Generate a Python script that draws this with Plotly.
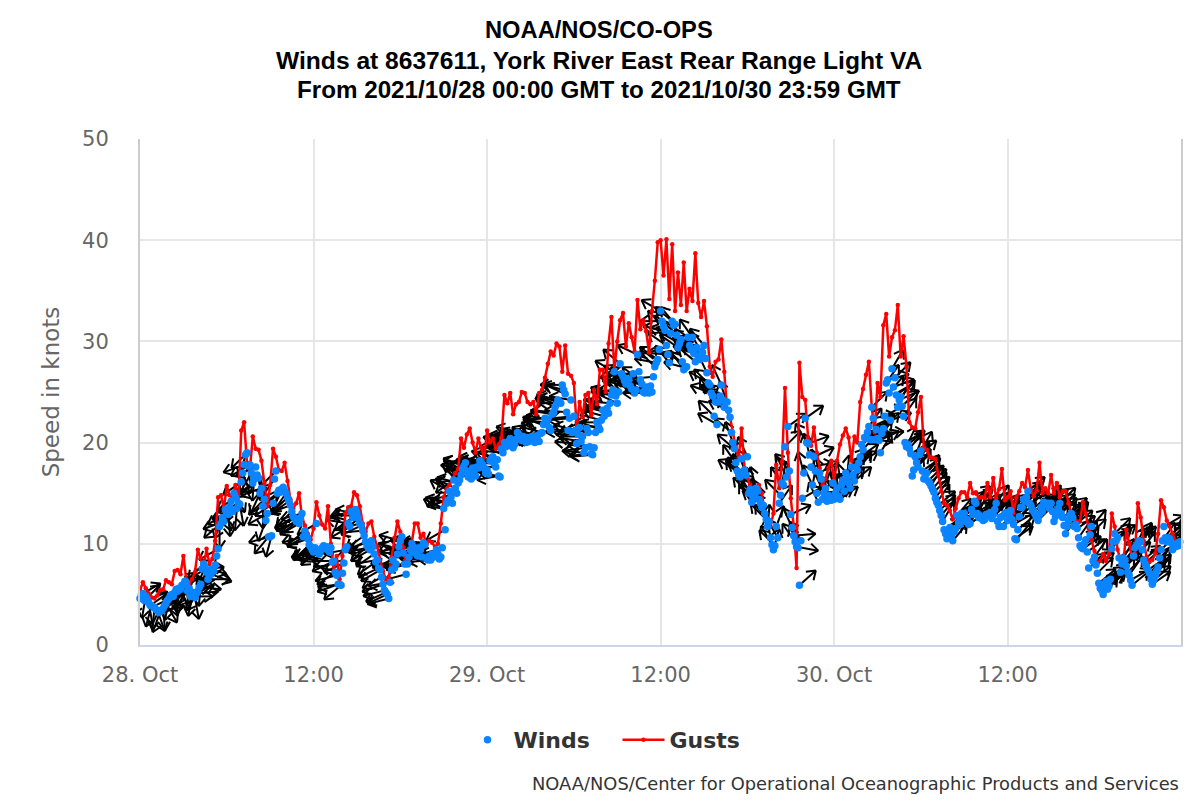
#! python3
# -*- coding: utf-8 -*-
import plotly.graph_objs as go
import datetime
import math

# Values, one row per hour, one value every 12 minutes
winds = [
    4.6, 5.1, 4.8, 4.2, 3.9,
    3.7, 3.4, 3.3, 3.6, 4.1,
    4.6, 5.0, 5.2, 5.3, 5.5,
    5.9, 6.2, 5.6, 5.0, 4.7,
    5.3, 6.0, 8.0, 7.2, 7.4,
    7.5, 7.9, 9.5, 12.0, 12.2,
    13.0, 13.6, 13.2, 14.6, 14.0,
    16.1, 17.8, 19.0, 17.8, 16.0,
    17.6, 16.5, 15.5, 14.4, 13.0,
    10.7, 14.0, 17.2, 15.3, 15.4,
    15.2, 14.6, 13.8, 12.7, 12.2,
    12.0, 13.0, 11.3, 10.5, 9.7,
    9.2, 12.0, 9.0, 9.6, 9.5,
    9.4, 9.6, 8.3, 6.9, 6.0,
    7.1, 9.4, 12.0, 13.2, 12.8,
    13.0, 12.0, 11.3, 10.2, 9.6,
    10.3, 9.0, 8.4, 7.4, 6.0,
    5.2, 4.6, 7.4, 7.6, 9.0,
    10.3, 9.1, 7.0, 8.7, 10.0,
    9.6, 8.8, 9.4, 10.1, 8.6,
    8.8, 9.0, 8.8, 9.0, 8.7,
    13.5, 14.0, 15.2, 14.0, 15.5,
    16.0, 16.8, 17.7, 17.2, 17.0,
    17.5, 16.7, 17.5, 18.0, 17.5,
    17.3, 18.2, 18.6, 17.6, 16.7,
    19.4, 20.0, 19.8, 20.4, 19.5,
    20.3, 20.8, 20.2, 20.4, 20.5,
    20.2, 20.6, 20.3, 20.1, 21.0,
    22.4, 22.3, 21.2, 23.0, 23.8,
    24.0, 25.7, 24.8, 21.2, 24.2,
    22.6, 19.9, 21.5, 20.6, 19.5,
    21.0, 18.9, 19.5, 22.0, 21.3,
    23.2, 23.0, 22.9, 24.7, 27.0,
    23.9, 27.8, 26.5, 25.8, 26.2,
    25.3, 24.9, 28.7, 26.2, 25.0,
    25.5, 24.9, 25.0, 27.5, 28.2,
    33.0, 31.5, 29.6, 27.9, 32.0,
    31.7, 29.4, 30.2, 27.2, 27.5,
    29.6, 30.4, 28.0, 28.5, 29.0,
    29.6, 26.9, 25.7, 24.6, 24.0,
    24.0, 25.7, 23.5, 24.0, 22.5,
    20.0, 18.0, 16.8, 18.4, 17.3,
    18.6, 15.4, 14.5, 15.5, 14.4,
    13.6, 13.0, 11.7, 10.6, 9.4,
    11.7, 14.0, 16.0, 19.6, 21.6,
    12.9, 10.8, 9.7, 5.9, 14.5,
    22.4, 19.9, 17.6, 18.6, 15.0,
    17.0, 14.4, 15.5, 14.8, 14.3,
    14.4, 15.5, 14.4, 16.3, 17.0,
    16.0, 17.6, 16.2, 17.3, 18.6,
    19.3, 20.4, 21.6, 23.5, 20.3,
    20.4, 19.0, 21.4, 25.9, 24.9,
    27.3, 26.4, 23.5, 24.5, 22.6,
    19.6, 19.4, 16.7, 18.6, 17.6,
    19.2, 16.4, 17.0, 16.0, 15.4,
    14.5, 13.8, 12.8, 11.4, 10.5,
    11.6, 10.3, 11.5, 12.1, 13.0,
    13.0, 12.4, 12.0, 12.9, 14.0,
    12.6, 12.5, 12.4, 12.8, 13.1,
    12.9, 14.0, 11.7, 12.7, 13.0,
    12.3, 13.3, 11.9, 10.4, 12.7,
    13.6, 14.2, 15.2, 13.8, 13.2,
    12.6, 12.9, 13.2, 14.0, 14.0,
    14.0, 12.2, 13.0, 14.0, 12.6,
    11.0, 12.3, 13.0, 11.7, 11.5,
    9.8, 9.5, 10.4, 7.6, 11.7,
    8.7, 7.1, 5.6, 5.0, 6.3,
    5.8, 9.5, 11.0, 10.6, 7.2,
    8.6, 7.8, 6.9, 5.9, 9.6,
    10.0, 10.2, 8.4, 7.7, 7.1,
    6.0, 6.9, 7.7, 9.4, 11.7,
    10.2, 10.5, 9.4, 9.7, 9.8,
]
# The same, for the readings 6 minutes later
winds_between = [
    5.0, 4.4, 4.5, 3.9, 3.8,
    3.5, 3.2, 3.4, 3.9, 4.4,
    4.9, 4.8, 5.5, 5.6, 5.9,
    6.3, 5.3, 4.8, 5.2, 5.1,
    5.7, 7.5, 7.6, 6.5, 7.0,
    7.3, 8.8, 11.7, 12.6, 13.4,
    12.9, 14.2, 15.0, 13.5, 13.9,
    17.0, 18.8, 17.7, 17.0, 16.4,
    16.8, 15.0, 13.7, 12.3, 10.7,
    10.8, 16.4, 15.0, 15.1, 15.6,
    15.0, 14.2, 13.2, 12.5, 12.4,
    12.5, 10.7, 10.8, 9.9, 9.4,
    9.6, 9.3, 9.4, 9.8, 9.7,
    9.2, 8.2, 7.2, 6.0, 5.9,
    8.1, 9.7, 11.7, 12.6, 13.4,
    12.5, 11.8, 10.8, 9.8, 9.4,
    9.7, 8.2, 7.6, 6.7, 5.4,
    5.0, 6.2, 8.4, 8.0, 9.7,
    10.7, 8.0, 8.0, 9.4, 9.2,
    9.0, 9.6, 8.7, 9.9, 8.4,
    8.4, 8.7, 9.4, 8.5, 9.6,
    11.4, 14.3, 14.6, 16.3, 15.0,
    16.3, 17.4, 18.0, 16.6, 16.4,
    17.0, 17.6, 18.2, 17.8, 17.0,
    16.9, 18.4, 17.9, 18.3, 16.6,
    19.0, 19.6, 20.1, 20.0, 19.8,
    21.0, 20.4, 20.6, 20.0, 20.1,
    20.6, 20.0, 20.7, 20.9, 21.8,
    22.0, 21.5, 22.8, 23.5, 24.2,
    23.9, 25.2, 23.0, 22.4, 21.0,
    21.2, 20.8, 20.1, 19.0, 21.4,
    19.6, 18.8, 21.0, 21.6, 22.2,
    22.6, 23.4, 23.9, 25.2, 24.6,
    25.0, 26.8, 26.1, 26.3, 25.6,
    26.8, 25.2, 27.0, 25.8, 24.9,
    25.2, 25.6, 26.5, 27.9, 29.2,
    32.0, 31.1, 28.7, 30.8, 31.6,
    30.6, 29.8, 28.0, 27.4, 30.4,
    29.2, 28.8, 29.4, 28.2, 28.9,
    28.3, 25.9, 24.9, 22.6, 21.8,
    24.6, 24.2, 24.0, 23.2, 21.0,
    19.4, 17.2, 16.6, 17.0, 16.8,
    15.0, 14.1, 15.0, 15.2, 14.0,
    13.8, 12.4, 12.2, 9.9, 9.8,
    10.6, 14.8, 15.8, 16.6, 17.2,
    11.6, 10.2, 9.6, 10.3, 17.0,
    20.0, 18.8, 15.8, 17.2, 14.1,
    16.4, 15.0, 14.2, 14.6, 16.0,
    15.0, 14.7, 15.8, 15.2, 16.6,
    15.5, 16.8, 17.6, 18.0, 19.8,
    20.5, 21.0, 20.3, 22.4, 21.3,
    20.2, 20.9, 22.6, 26.2, 22.2,
    25.5, 24.7, 24.2, 23.6, 20.0,
    19.8, 18.9, 17.3, 18.0, 18.8,
    17.2, 16.8, 16.2, 15.7, 15.1,
    14.1, 13.3, 12.2, 11.0, 11.2,
    10.8, 11.2, 12.8, 11.9, 12.6,
    12.2, 11.9, 13.4, 14.2, 13.0,
    12.7, 12.3, 12.9, 13.0, 12.5,
    13.4, 12.2, 12.6, 11.7, 13.1,
    12.8, 12.4, 10.5, 11.4, 13.6,
    14.4, 14.6, 14.0, 13.4, 12.9,
    12.3, 13.6, 14.1, 13.8, 13.5,
    13.2, 12.7, 13.5, 13.0, 11.8,
    11.7, 12.8, 12.6, 11.9, 10.6,
    9.6, 10.0, 9.2, 10.9, 8.3,
    7.9, 6.1, 5.4, 5.9, 5.5,
    6.5, 10.2, 10.3, 8.6, 8.0,
    8.4, 7.2, 6.4, 8.8, 9.8,
    10.3, 9.4, 8.0, 7.4, 6.5,
    6.4, 7.3, 8.6, 10.3, 10.6,
    10.6, 10.1, 9.8, 10.0, 10.2,
]
gusts = [
    5.4, 6.2, 5.6, 5.1, 4.7,
    4.6, 4.9, 5.4, 5.5, 6.4,
    6.2, 6.0, 7.3, 7.4, 7.0,
    8.8, 6.5, 6.0, 6.5, 7.2,
    9.4, 8.6, 7.6, 9.5, 8.0,
    8.5, 10.3, 14.6, 14.8, 13.5,
    15.7, 14.8, 14.6, 15.8, 14.0,
    21.2, 22.0, 18.0, 17.4, 20.6,
    19.4, 19.3, 18.2, 16.0, 13.7,
    15.8, 19.4, 18.6, 17.3, 17.2,
    18.0, 16.2, 14.4, 13.5, 14.0,
    15.0, 12.7, 11.8, 11.0, 10.4,
    11.5, 14.1, 12.8, 11.9, 11.5,
    13.7, 10.0, 7.3, 8.8, 6.5,
    8.8, 13.0, 13.6, 13.7, 15.1,
    14.8, 13.7, 12.0, 11.2, 12.0,
    12.2, 10.7, 9.7, 8.4, 7.3,
    6.5, 6.7, 8.7, 10.6, 12.2,
    11.2, 9.6, 8.5, 8.0, 10.2,
    12.0, 12.0, 10.6, 11.0, 9.9,
    10.3, 10.1, 9.7, 10.0, 12.0,
    14.6, 15.4, 15.8, 16.3, 17.0,
    17.4, 20.4, 19.5, 20.8, 21.4,
    20.0, 19.0, 20.4, 19.5, 18.5,
    21.2, 20.0, 20.4, 19.4, 19.8,
    20.5, 24.7, 23.9, 24.9, 22.8,
    23.8, 24.0, 25.0, 24.9, 24.0,
    23.8, 24.0, 22.8, 24.9, 25.2,
    26.4, 27.8, 29.0, 28.6, 29.8,
    29.5, 27.0, 29.6, 26.8, 26.6,
    25.9, 21.5, 24.0, 22.5, 24.7,
    24.9, 22.7, 25.2, 23.8, 27.2,
    27.2, 25.0, 29.8, 32.4, 27.2,
    30.0, 32.1, 32.8, 29.5, 31.8,
    30.4, 29.0, 34.1, 31.2, 32.1,
    31.0, 28.9, 33.0, 36.0, 39.8,
    40.0, 36.5, 40.1, 34.2, 39.6,
    33.0, 36.8, 33.6, 37.8, 33.0,
    35.2, 34.0, 38.7, 33.8, 32.4,
    34.0, 31.5, 27.5, 26.5, 28.0,
    28.2, 30.2, 27.0, 23.2, 22.5,
    21.0, 19.5, 18.5, 21.4, 17.5,
    16.5, 15.8, 15.5, 14.8, 15.8,
    15.0, 13.0, 12.3, 11.7, 13.0,
    17.8, 15.5, 18.1, 25.4, 19.0,
    14.5, 11.8, 7.6, 27.9, 24.5,
    24.2, 20.5, 19.7, 21.5, 19.0,
    17.5, 15.8, 16.4, 17.5, 18.2,
    16.3, 18.2, 19.8, 20.7, 21.4,
    20.5, 18.2, 20.6, 20.0, 24.0,
    25.3, 26.7, 28.0, 23.5, 21.0,
    25.9, 24.5, 31.6, 32.7, 28.5,
    30.4, 31.1, 33.6, 28.5, 30.5,
    27.5, 22.0, 21.5, 21.4, 23.0,
    24.5, 19.5, 19.3, 18.6, 18.5,
    18.4, 16.8, 15.2, 14.0, 13.8,
    13.3, 12.4, 13.5, 14.5, 15.1,
    15.1, 14.6, 16.0, 15.0, 15.1,
    14.5, 14.6, 14.5, 16.0, 14.6,
    16.5, 14.5, 15.4, 17.4, 14.3,
    14.6, 15.2, 13.0, 14.6, 15.2,
    16.0, 15.6, 17.3, 15.3, 14.7,
    15.3, 18.0, 15.0, 15.5, 15.0,
    16.8, 15.0, 16.0, 14.6, 15.2,
    15.2, 14.0, 13.0, 12.5, 12.2,
    12.2, 14.1, 13.0, 11.5, 10.4,
    9.3, 8.0, 8.3, 9.0, 8.3,
    9.0, 13.0, 11.7, 9.4, 8.4,
    8.0, 11.4, 10.0, 8.7, 9.0,
    14.0, 12.6, 10.3, 8.7, 8.2,
    8.4, 9.0, 11.0, 14.3, 13.6,
    12.3, 11.7, 11.0, 10.3, 10.0,
]
# Compass bearing each arrow points to
headings = [
    225, 205, 190, 170, 195,
    185, 160, 200, 175, 150,
    190, 165, 205, 180, 155,
    200, 175, 215, 190, 170,
    210, 185, 225, 200, 215,
    225, 205, 240, 230, 250,
    240, 225, 250, 235, 245,
    235, 250, 225, 240, 230,
    245, 230, 250, 225, 240,
    255, 235, 225, 245, 230,
    240, 225, 250, 235, 245,
    240, 255, 230, 250, 235,
    255, 240, 265, 250, 260,
    260, 245, 270, 255, 262,
    285, 260, 280, 255, 270,
    280, 255, 265, 245, 260,
    250, 235, 260, 240, 250,
    245, 255, 290, 280, 300,
    285, 270, 255, 295, 280,
    270, 285, 295, 275, 265,
    285, 270, 290, 275, 285,
    295, 285, 300, 280, 295,
    285, 300, 290, 275, 295,
    285, 270, 295, 280, 290,
    280, 265, 285, 270, 260,
    275, 285, 265, 280, 270,
    285, 270, 290, 275, 265,
    270, 280, 265, 275, 285,
    265, 280, 260, 275, 290,
    285, 270, 295, 265, 280,
    265, 275, 255, 270, 262,
    280, 265, 285, 270, 290,
    300, 285, 305, 290, 300,
    295, 310, 300, 285, 305,
    300, 315, 295, 305, 290,
    310, 295, 300, 315, 305,
    300, 315, 305, 320, 310,
    320, 305, 315, 325, 310,
    315, 325, 310, 320, 330,
    320, 335, 315, 325, 330,
    325, 335, 320, 340, 330,
    340, 325, 345, 330, 340,
    335, 350, 330, 345, 340,
    350, 340, 5, 350, 15,
    20, 35, 10, 45, 55,
    65, 85, 100, 48, 60,
    55, 70, 80, 65, 85,
    60, 75, 50, 65, 55,
    60, 45, 55, 40, 50,
    45, 35, 50, 40, 55,
    40, 50, 35, 45, 30,
    40, 30, 45, 35, 40,
    30, 45, 25, 40, 35,
    25, 40, 30, 20, 35,
    30, 45, 35, 50, 40,
    35, 50, 40, 55, 45,
    50, 40, 55, 45, 60,
    50, 40, 55, 60, 50,
    45, 55, 35, 50, 60,
    50, 35, 55, 45, 40,
    55, 45, 60, 40, 50,
    45, 60, 50, 35, 55,
    40, 55, 45, 50, 35,
    50, 40, 60, 45, 55,
    35, 50, 45, 30, 55,
    45, 55, 30, 50, 40,
    35, 45, 55, 40, 50,
    50, 35, 45, 55, 40,
    30, 45, 35, 50, 25,
    40, 30, 50, 35, 45,
    55, 40, 30, 45, 60,
    50, 65, 40, 55, 70,
    60, 45, 70, 55, 65,
    70, 55, 80, 60, 50,
    65, 75, 55, 45, 70,
    60, 80, 90, 70, 85,
    95, 85, 105, 90, 110,
]
headings_between = [
    215, 195, 180, 200, 165,
    175, 195, 150, 185, 170,
    160, 195, 175, 210, 185,
    165, 205, 180, 200, 220,
    195, 215, 190, 230, 205,
    215, 235, 225, 245, 235,
    230, 255, 240, 225, 250,
    245, 230, 240, 250, 235,
    225, 245, 235, 250, 230,
    245, 225, 240, 235, 250,
    230, 245, 235, 225, 240,
    250, 235, 245, 240, 255,
    245, 260, 250, 270, 255,
    250, 265, 255, 260, 270,
    270, 285, 265, 275, 280,
    265, 275, 255, 270, 250,
    240, 255, 245, 235, 255,
    265, 280, 275, 290, 295,
    275, 290, 280, 265, 290,
    280, 265, 275, 290, 285,
    275, 295, 280, 270, 290,
    285, 295, 275, 290, 300,
    295, 280, 285, 300, 290,
    275, 290, 280, 295, 285,
    270, 285, 275, 265, 280,
    285, 270, 280, 275, 265,
    275, 265, 280, 270, 285,
    285, 270, 275, 265, 280,
    275, 260, 270, 285, 280,
    270, 285, 260, 275, 270,
    270, 260, 265, 280, 255,
    270, 280, 275, 285, 295,
    290, 300, 295, 285, 305,
    305, 290, 300, 310, 295,
    310, 300, 290, 315, 300,
    300, 315, 305, 295, 310,
    310, 300, 320, 315, 305,
    315, 325, 310, 320, 305,
    325, 315, 320, 330, 315,
    330, 315, 325, 335, 320,
    335, 325, 340, 330, 345,
    330, 345, 335, 350, 335,
    345, 335, 355, 340, 350,
    345, 355, 350, 10, 5,
    30, 25, 45, 60, 50,
    75, 90, 95, 80, 55,
    65, 85, 60, 75, 70,
    70, 55, 65, 45, 60,
    50, 60, 45, 35, 50,
    55, 40, 45, 30, 45,
    35, 45, 30, 40, 35,
    45, 35, 40, 30, 45,
    40, 30, 35, 45, 30,
    35, 30, 40, 25, 45,
    40, 35, 50, 45, 35,
    45, 40, 55, 50, 40,
    55, 45, 60, 50, 45,
    45, 55, 60, 45, 55,
    55, 40, 50, 45, 60,
    40, 55, 45, 50, 35,
    50, 40, 55, 45, 60,
    55, 50, 40, 60, 45,
    45, 55, 40, 50, 55,
    40, 45, 60, 50, 35,
    50, 35, 45, 55, 40,
    50, 40, 45, 35, 55,
    45, 55, 40, 50, 45,
    35, 50, 30, 45, 40,
    45, 35, 40, 50, 35,
    45, 55, 50, 40, 55,
    60, 50, 70, 45, 60,
    50, 65, 55, 75, 60,
    60, 75, 50, 70, 55,
    70, 60, 50, 65, 75,
    70, 85, 75, 95, 80,
    90, 100, 80, 95, 105,
]
y_ticks = [0, 10, 20, 30, 40, 50]
x_tick_text = ["28. Oct", "12:00", "29. Oct", "12:00", "30. Oct", "12:00"]
x_tick_hours = [0, 12, 24, 36, 48, 60]
title_lines = [
    "NOAA/NOS/CO-OPS",
    "Winds at 8637611, York River East Rear Range Light VA",
    "From 2021/10/28 00:00 GMT to 2021/10/30 23:59 GMT",
]
title_sizes = [23.7, 24.6, 24.2]
credit = "NOAA/NOS/Center for Operational Oceanographic Products and Services"

start = datetime.datetime(2021, 10, 28)
end = datetime.datetime(2021, 10, 30, 23, 59)
times = [start + datetime.timedelta(minutes=12 * i) for i in range(len(winds))]
times_between = [t + datetime.timedelta(minutes=6) for t in times]
x_tick_vals = [start + datetime.timedelta(hours=h) for h in x_tick_hours]

all_times = times + times_between
all_winds = winds + winds_between
all_headings = headings + headings_between

# Plot area in pixels, used to give the arrows a fixed size on screen
plot_w = 1041
plot_h = 506
hours_per_px = 72 / plot_w
knots_per_px = 50 / plot_h
shaft = 22
barb = 10

arrow_x = []
arrow_y = []
for t, speed, heading in zip(all_times, all_winds, all_headings):
    a = math.radians(heading)
    tip_dx = shaft * math.sin(a)
    tip_dy = shaft * math.cos(a)
    tip_t = t + datetime.timedelta(hours=tip_dx * hours_per_px)
    tip_s = speed + tip_dy * knots_per_px
    # Shaft
    arrow_x += [t, tip_t, None]
    arrow_y += [speed, tip_s, None]
    # Open head
    for side in (-145, 145):
        b = math.radians(heading + side)
        arrow_x += [tip_t + datetime.timedelta(hours=barb * math.sin(b) * hours_per_px), tip_t, None]
        arrow_y += [tip_s + barb * math.cos(b) * knots_per_px, tip_s, None]

fig = go.Figure()

# Direction arrows go under everything else
fig.add_trace(
    go.Scatter(
        x=arrow_x,
        y=arrow_y,
        mode="lines",
        line=dict(color="black", width=2),
        cliponaxis=False,
        showlegend=False,
        hoverinfo="skip",
    )
)

# Create the gust line
fig.add_trace(
    go.Scatter(
        x=times,
        y=gusts,
        mode="lines+markers",
        name="Gusts",
        line=dict(color="#ff0000", width=2.5),
        marker=dict(color="#ff0000", size=4.5),
    )
)

# Create the wind points
fig.add_trace(
    go.Scatter(
        x=all_times,
        y=all_winds,
        mode="markers",
        name="Winds",
        marker=dict(color="#0a84ff", size=7.5),
        cliponaxis=False,
    )
)

annotations = []
for i, line in enumerate(title_lines):
    annotations.append(
        dict(
            text="<b>" + line + "</b>",
            xref="paper",
            yref="paper",
            x=(598 - 139) / plot_w,
            y=(645 - (30 + 30 * i)) / plot_h,
            yanchor="middle",
            showarrow=False,
            font=dict(family="Liberation Sans", size=title_sizes[i], color="black"),
        )
    )
annotations.append(
    dict(
        text=credit,
        xref="paper",
        yref="paper",
        x=1,
        y=(645 - 783) / plot_h,
        xanchor="right",
        yanchor="middle",
        showarrow=False,
        font=dict(family="DejaVu Sans", size=17.85, color="#333333"),
    )
)

# Update layout, the page body pushes everything 8 px right and down
fig.update_layout(
    width=1200,
    height=800,
    margin=dict(l=132, r=27, t=131, b=163),
    plot_bgcolor="white",
    paper_bgcolor="white",
    font=dict(family="DejaVu Sans", color="#666666"),
    annotations=annotations,
    legend=dict(
        orientation="h",
        traceorder="reversed",
        itemwidth=42,
        entrywidth=99,
        entrywidthmode="pixels",
        x=(616.5 - 139) / plot_w,
        xanchor="center",
        y=(645 - 740) / plot_h,
        yanchor="middle",
        font=dict(family="DejaVu Sans", size=22, color="#333333", weight="bold"),
    ),
)
fig.update_xaxes(
    type="date",
    range=[start, end],
    tickmode="array",
    tickvals=x_tick_vals,
    ticktext=x_tick_text,
    tickfont=dict(size=21, color="#666666"),
    showgrid=True,
    gridcolor="#e6e6e6",
    gridwidth=2,
    showline=True,
    linecolor="#ccd6eb",
    linewidth=2,
    ticks="",
    ticklabelstandoff=10,
    zeroline=False,
)
fig.update_yaxes(
    range=[0, 50],
    tickmode="array",
    tickvals=y_ticks,
    tickfont=dict(size=21, color="#666666"),
    title=dict(text="Speed in knots", font=dict(size=23, color="#666666"), standoff=16),
    showgrid=True,
    gridcolor="#e6e6e6",
    gridwidth=2,
    showline=True,
    mirror=True,
    linecolor="#cccccc",
    linewidth=2,
    ticks="",
    ticklabelstandoff=25,
    zeroline=False,
)

fig.write_html("out.html")
